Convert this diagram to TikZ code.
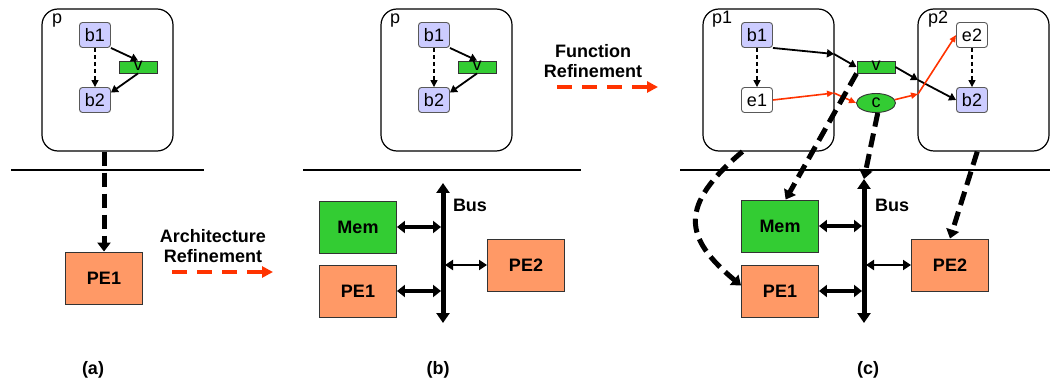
\documentclass[tikz,border=0pt]{standalone}
\usepackage{fontspec}
\setmainfont{Liberation Sans}
\usetikzlibrary{arrows.meta,shapes.geometric}

\definecolor{taskblue}{HTML}{CCCCFF}
\definecolor{chgreen}{HTML}{33CC33}
\definecolor{peorange}{HTML}{FF9966}
\definecolor{refred}{HTML}{FF3300}

\begin{document}
\begin{tikzpicture}[x=1pt, y=-1pt, font=\fontsize{18}{20}\selectfont,
  proc/.style={draw, rounded corners=16pt, line width=1.2pt, minimum width=131pt, minimum height=142pt},
  beh/.style={draw=black!65, fill=taskblue, rounded corners=3pt, line width=0.9pt, minimum width=31pt, minimum height=25pt, inner sep=0pt},
  ev/.style={beh, fill=white},
  chan/.style={draw=black!80, fill=chgreen, line width=0.9pt, minimum width=38pt, minimum height=12pt, inner sep=0pt, text height=7pt, text depth=0pt},
  evchan/.style={ellipse, draw=black!80, fill=chgreen, line width=0.9pt, minimum width=39pt, minimum height=19pt, inner sep=0pt},
  pe/.style={draw=black!80, fill=peorange, line width=0.9pt, minimum width=77pt, minimum height=52pt, font=\fontsize{18}{20}\selectfont\bfseries},
  mem/.style={pe, fill=chgreen},
  lbl/.style={inner sep=0pt, anchor=base west},
  bold/.style={font=\fontsize{18}{20}\selectfont\bfseries, align=center},
  flow/.style={line width=1.8pt, -{Triangle[length=7pt,width=8pt]}},
  ctrl/.style={line width=1.4pt, dash pattern=on 4pt off 3pt, -{Triangle[length=7pt,width=7pt]}},
  sig/.style={draw=refred, line width=1.6pt, -{Triangle[length=7pt,width=6pt]}},
  map/.style={line width=5pt, dash pattern=on 14pt off 7pt, -{Triangle[length=9pt,width=13pt]}},
  refine/.style={draw=refred, line width=4pt, dash pattern=on 15pt off 10pt, -{Triangle[length=11pt,width=11pt]}},
  bus/.style={line width=5pt, {Triangle[length=10pt,width=13pt]}-{Triangle[length=10pt,width=13pt]}},
  port/.style={line width=3.5pt, {Triangle[length=8pt,width=12pt]}-{Triangle[length=8pt,width=12pt]}},
  portthin/.style={line width=2.5pt, {Triangle[length=8pt,width=10pt]}-{Triangle[length=8pt,width=10pt]}},
  sep/.style={line width=1.8pt}]

  \useasboundingbox (0,0) rectangle (1050,382);

  % (a)
  \node[proc] (pA) at (107.5,80) {};
  \node[lbl] (pAlab) at (52,24) {p};
  \node[beh] (b1a) at (95,35) {b1};
  \node[chan] (va) at (138,67) {v};
  \node[beh] (b2a) at (95,100) {b2};
  \node[pe] (PE1a) at (104,278) {PE1};
  \draw[sep] (11,170) -- (204,170);

  \path (b1a.south east) edge[flow] (va.north)
        (va.south)       edge[flow] (b2a.25)
        (b1a)            edge[ctrl] (b2a);
  \draw[map] (pA.south -| PE1a.north) -- (PE1a.north);

  \node[bold] (archtxt) at (213,246) {Architecture\\Refinement};
  \coordinate (archS) at (172,272);
  \coordinate (archE) at (273,272);
  \draw[refine] (archS) -- (archE);
  \node (capA) at (93,370) {\bfseries (a)};

  % (b)
  \node[proc] (pB) at (446.5,80) {};
  \node[lbl] (pBlab) at (390,24) {p};
  \node[beh] (b1b) at (434,35) {b1};
  \node[chan] (vb) at (477,67) {v};
  \node[beh] (b2b) at (434,100) {b2};
  \draw[sep] (303,170) -- (581,170);

  \path (b1b.south east) edge[flow] (vb.north)
        (vb.south)       edge[flow] (b2b.25)
        (b1b)            edge[ctrl] (b2b);

  \node[mem] (Memb) at (358,227) {Mem};
  \node[pe] (PE1b) at (358,291) {PE1};
  \node[pe] (PE2b) at (526,265) {PE2};
  \coordinate (busBt) at (443,183);
  \coordinate (busBb) at (443,323);
  \draw[bus] (busBt) -- (busBb);
  \node[bold] (busBlab) at (470,205) {Bus};
  \draw[port] (Memb.east) -- ([xshift=-2pt]Memb.east -| busBt);
  \draw[port] (PE1b.east) -- ([xshift=-2pt]PE1b.east -| busBt);
  \draw[portthin] ([xshift=2pt]PE2b.west -| busBt) -- (PE2b.west);
  \node (capB) at (438,370) {\bfseries (b)};

  \node[bold] (functxt) at (593,61) {Function\\Refinement};
  \coordinate (funcS) at (557,87);
  \coordinate (funcE) at (658,87);
  \draw[refine] (funcS) -- (funcE);

  % (c)
  \node[proc] (p1) at (768.5,80) {};
  \node[proc] (p2) at (983.5,80) {};
  \node[lbl] (p1lab) at (712,24) {p1};
  \node[lbl] (p2lab) at (928,24) {p2};
  \node[beh] (b1c) at (757,35) {b1};
  \node[ev]  (e1)  at (757,100) {e1};
  \node[chan] (vc) at (876,67) {v};
  \node[evchan] (cc) at (876,103) {c};
  \node[ev]  (e2)  at (972,35) {e2};
  \node[beh] (b2c) at (972,100) {b2};
  \coordinate (o1) at (834,54);
  \coordinate (o2) at (834,93);
  \coordinate (o3) at (918,80);
  \coordinate (o4) at (918,94);
  \draw[sep] (680,170) -- (1050,170);

  \path (b1c)            edge[ctrl] (e1)
        (e2)             edge[ctrl] (b2c)
        (b1c.south east) edge[flow] (o1)
        (o1)             edge[flow] (vc.west)
        (vc.east)        edge[flow] (o3)
        (o3)             edge[flow] (b2c.west)
        (e1.east)        edge[sig]  (o2)
        (o2)             edge[sig]  (cc.west)
        (cc.10)          edge[sig]  (o4)
        (o4)             edge[sig]  (e2.west);

  \node[mem] (Memc) at (780,226) {Mem};
  \node[pe] (PE1c) at (780,291) {PE1};
  \node[pe] (PE2c) at (950,265) {PE2};
  \coordinate (busCt) at (864,179);
  \coordinate (busCb) at (864,323);
  \draw[bus] (busCt) -- (busCb);
  \node[bold] (busClab) at (892,205) {Bus};
  \draw[port] (Memc.east) -- ([xshift=-2pt]Memc.east -| busCt);
  \draw[port] (PE1c.east) -- ([xshift=-2pt]PE1c.east -| busCt);
  \draw[portthin] ([xshift=2pt]PE2c.west -| busCt) -- (PE2c.west);

  \draw[map] (p1.250) .. controls (678,206) and (684,238) .. (PE1c.172);
  \draw[map] (vc.south west) -- (Memc.78);
  \draw[map] (cc.-80) -- (busCt);
  \draw[map] (p2.265) -- (PE2c.north);
  \node (capC) at (868,370) {\bfseries (c)};
\end{tikzpicture}
\end{document}
